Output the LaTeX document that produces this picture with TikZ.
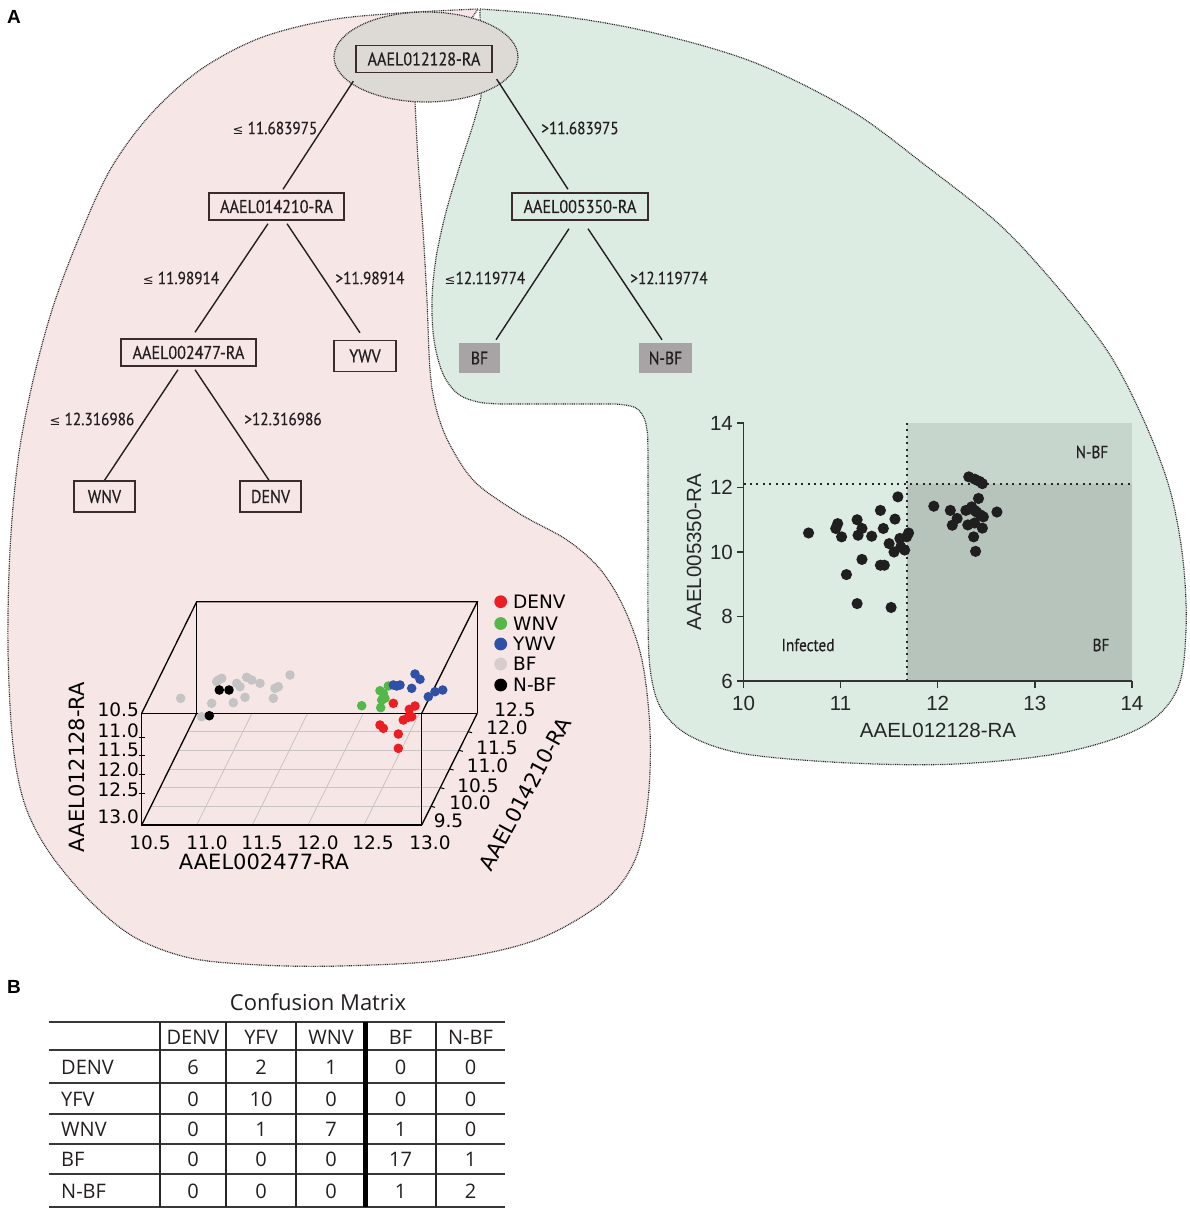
\documentclass[tikz,border=0pt]{standalone}
\usepackage{fontspec}
\setmainfont{Liberation Sans}
\newfontfamily\treef{PT Sans}[FakeStretch=0.87, FakeBold=0.45]
\newfontfamily\dvs{DejaVu Sans}
\newfontfamily\arl{Liberation Sans}
\newfontfamily\tbf{Open Sans}
\definecolor{pinkc}{RGB}{247,230,230}
\definecolor{greenc}{RGB}{220,236,226}
\definecolor{ellc}{RGB}{221,217,212}
\definecolor{shadeU}{RGB}{199,214,205}
\definecolor{shadeL}{RGB}{182,196,188}
\definecolor{leafgray}{RGB}{168,164,166}
\definecolor{boxc}{RGB}{58,44,44}
\definecolor{txt}{RGB}{35,31,32}
\definecolor{gridc}{RGB}{200,196,196}
\definecolor{dred}{RGB}{236,30,36}
\definecolor{dgreen}{RGB}{84,184,72}
\definecolor{dblue}{RGB}{48,80,168}
\definecolor{dgray}{RGB}{196,196,196}
\definecolor{lbf}{RGB}{216,204,204}
\newcommand\myle{{\dvs\fontsize{13}{15}\selectfont ≤}}
\begin{document}
\begin{tikzpicture}[x=1pt,y=-1pt,
  region/.style={draw=black!85, line width=1.2pt, dash pattern=on 0.9pt off 0.9pt},
  treebox/.style={draw=boxc, line width=1.4pt, inner sep=0pt, minimum height=27pt, text=txt, font=\treef\fontsize{18.5}{21}\selectfont},
  leafbox/.style={treebox, minimum height=31pt},
  greybox/.style={fill=leafgray, inner sep=0pt, minimum height=30pt, text=txt, font=\treef\fontsize{18}{21}\selectfont},
  cond/.style={inner sep=0pt, text=txt, font=\treef\fontsize{17.5}{20}\selectfont},
  edge/.style={draw=txt, line width=1.4pt},
  lab3d/.style={inner sep=0pt, font=\dvs\fontsize{18.5}{21}\selectfont},
  tit3d/.style={inner sep=0pt, font=\dvs\fontsize{21}{24}\selectfont},
  sclab/.style={inner sep=0pt, font=\arl\fontsize{20.5}{23}\selectfont, text=black!85},
  sctxt/.style={inner sep=0pt, font=\treef\fontsize{17.5}{20}\selectfont, text=txt},
  tabtxt/.style={inner sep=0pt, font=\tbf\fontsize{20}{23}\selectfont, text=txt},
  axisl/.style={draw=black!80, line width=1.4pt},
  dotl/.style={draw=black!85, line width=2.2pt, dash pattern=on 2pt off 4.4pt},
  panel/.style={inner sep=0pt, font=\arl\bfseries\fontsize{19}{22}\selectfont},
]
\useasboundingbox (0,0) rectangle (1190,1210);

% ---------- regions ----------
\path[fill=pinkc, region] (478,9) -- plot[smooth, tension=0.55] coordinates {
 (478,9) (400,13) (330,20) (260,38) (200,70) (150,115) (110,170) (78,240)
 (52,310) (32,385) (18,460) (10,550) (8,650) (13,745) (25,805) (49,852)
 (89,900) (134,937) (190,958) (260,965) (340,966) (446,960) (536,940)
 (603,902) (635,860) (648,800) (650,730) (642,660) (624,608) (600,569)
 (567,540) (520,514) (475,482) (449,443) (436,408) (430,370) (427,300)
 (423,230) (418,160) (415,101)} -- cycle;

\path[fill=greenc, region] (480,9) -- plot[smooth, tension=0.55] coordinates {
 (480,9) (560,16) (650,32) (753,62) (850,110) (925,165) (1000,225)
 (1060,290) (1110,355) (1145,423) (1170,490) (1183,560) (1186,630)
 (1177,690) (1140,728) (1061,753) (956,764) (850,763) (745,754) (690,736)
 (662,710) (651,675) (648,620) (648,460) (646,424) (636,408) (615,404)}
 -- (500,404) -- plot[smooth, tension=0.55] coordinates {
 (500,404) (478,402) (458,394) (443,374) (434,340) (432,300) (436,258)
 (446,212) (460,165) (473,125) (481,97)} -- cycle;

\path[fill=ellc, region] (426,57) ellipse[x radius=92, y radius=45];

% ---------- tree ----------
\node[panel] (lA) at (14,17) {A};
\node[treebox, fill=ellc, minimum width=136pt] (root) at (424,59) {AAEL012128-RA};
\node[treebox, fill=pinkc, minimum width=135pt] (n1) at (276.5,206.5) {AAEL014210-RA};
\node[treebox, fill=pinkc, minimum width=135pt] (n2) at (188.5,352.5) {AAEL002477-RA};
\node[leafbox, fill=pinkc, minimum width=62pt] (ywv) at (365,356) {YWV};
\node[leafbox, fill=pinkc, minimum width=61pt] (wnv) at (104.5,496.5) {WNV};
\node[leafbox, fill=pinkc, minimum width=61pt] (denv) at (270.5,496.5) {DENV};
\node[treebox, fill=greenc, minimum width=136pt] (n3) at (580,206.5) {AAEL005350-RA};
\node[greybox, minimum width=41pt] (bf) at (479.5,358) {BF};
\node[greybox, minimum width=53pt] (nbf) at (665.5,358) {N-BF};

\draw[edge] ([shift={(-2pt,-8pt)}]root.south west) -- ([shift={(6.5pt,3pt)}]n1.north);
\draw[edge] ([shift={(-8.5pt,-3pt)}]n1.south) -- ([shift={(6.5pt,6pt)}]n2.north);
\draw[edge] ([shift={(10.5pt,-3pt)}]n1.south) -- ([shift={(-5pt,7pt)}]ywv.north);
\draw[edge] ([shift={(-10.5pt,-3pt)}]n2.south) -- (wnv.north);
\draw[edge] ([shift={(6.5pt,-3pt)}]n2.south) -- ([shift={(-1.5pt,0pt)}]denv.north);
\draw[edge] ([shift={(4pt,-6pt)}]root.south east) -- ([shift={(-12pt,3pt)}]n3.north);
\draw[edge] ([shift={(-11pt,-8pt)}]n3.south) -- ([shift={(16.5pt,3pt)}]bf.north);
\draw[edge] ([shift={(8pt,-8pt)}]n3.south) -- ([shift={(-3.5pt,3pt)}]nbf.north);

\node[cond] (c1) at (275,128) {\myle\ 11.683975};
\node[cond] (c2) at (580,128) {>11.683975};
\node[cond] (c3) at (181,278) {\myle\ 11.98914};
\node[cond] (c4) at (370,278) {>11.98914};
\node[cond] (c5) at (485,278) {\myle 12.119774};
\node[cond] (c6) at (669,278) {>12.119774};
\node[cond] (c7) at (92,419) {\myle\ 12.316986};
\node[cond] (c8) at (283,419) {>12.316986};

% ---------- 3D plot ----------
\foreach \yy/\xl/\xr in {731.7/187.6/468.1, 750.3/178.5/458.9, 769/169.3/449.6, 787.7/160.1/440.3, 806.3/150.9/431.0}
  \draw[gridc, line width=0.8pt] (\xl,\yy) -- (\xr,\yy);
\foreach \xx in {196.7,252.3,308,364}
  \draw[gridc, line width=0.8pt] (\xx,825) -- (\xx+55.3,713.3);
\begin{scope}[line width=1.3pt, black]
 \draw (141.7,713.3) -- (477.3,713.3);
 \draw (141.7,713.3) -- (196.7,601.7) -- (477.3,601.7) -- (421.7,713.3);
 \draw (196.7,601.7) -- (196.7,713.3);
 \draw (477.3,601.7) -- (477.3,713.3);
 \draw (141.7,713.3) -- (141.7,825) -- (421.7,825) -- (421.7,713.3);
 \draw (141.7,825) -- (196.7,713.3);
 \draw (421.7,825) -- (477.3,713.3);
\end{scope}
\foreach \yy in {737,755,774,793} \draw[line width=1pt] (139,\yy) -- (145,\yy);
\foreach \yy/\xr in {731.7/468.1, 750.3/458.9, 769/449.6, 787.7/440.3, 806.3/431.0}
  \draw[line width=1pt] (\xr,\yy) -- (\xr+4,\yy+1);

\foreach \v/\yy [count=\i] in {10.5/710,11.0/731,11.5/750,12.0/770,12.5/790,13.0/817}
  \node[lab3d, anchor=east] (zl\i) at (139,\yy) {\v};
\foreach \v/\xx [count=\i] in {10.5/150,11.0/207,11.5/262,12.0/318,12.5/373,13.0/430}
  \node[lab3d] (xl\i) at (\xx,843) {\v};
\foreach \v/\xx/\yy [count=\i] in {12.5/515/710,12.0/507/728,11.5/497/748,11.0/487.5/766,10.5/478/786,10.0/470/803,9.5/448.5/821}
  \node[lab3d] (yl\i) at (\xx,\yy) {\v};
\node[tit3d] (t3x) at (264,862) {AAEL002477-RA};
\node[tit3d, rotate=90] (t3z) at (77,767) {AAEL012128-RA};
\node[tit3d, rotate=61.7] (t3y) at (525,794) {AAEL014210-RA};

\foreach \p in {(180.7,698.3),(218.3,680),(221.7,678.3),(216.7,681.7),(236.7,683.3),(240,686.7),(246.7,677.3),(251.7,680),(260,683.3),(275,688.3),(278.3,686.7),(290,675),(245,697.3),(233.3,702.7),(211.7,703.3),(273.3,698.3),(201.7,716.7)}
  \fill[dgray] \p circle[radius=4.8pt];
\foreach \p in {(219.3,690),(229,690),(209.3,715.7)}
  \fill[black] \p circle[radius=4.8pt];
\foreach \p in {(361.7,705.7),(380.7,707.7),(380,690.7),(383.3,693.3),(388.3,686),(385,698.3),(381.7,700)}
  \fill[dgreen] \p circle[radius=4.8pt];
\foreach \p in {(393.3,685),(400,685),(411.7,688.3),(415,674),(420,679.3),(428.3,696.7),(435,691.7),(442.7,690),(396.7,686)}
  \fill[dblue] \p circle[radius=4.8pt];
\foreach \p in {(393.3,703.3),(409.3,709.3),(415,706),(411.7,716.7),(403.3,720),(408.3,717.3),(380,725),(383.3,728.3),(398.3,734),(398.3,748.3)}
  \fill[dred] \p circle[radius=4.8pt];

\foreach \c/\t/\yy [count=\i] in {dred/DENV/601.7, dgreen/WNV/623.5, dblue/YWV/644, lbf/BF/664, black/N-BF/685}{
  \fill[\c] (500.7,\yy) circle[radius=6.4pt];
  \node[lab3d, anchor=west] (lg\i) at (513,\yy) {\t};
}

% ---------- 2D scatter ----------
\begin{scope}[shift={(743.5,681)}]
\begin{scope}[x=97.1pt,y=32.25pt]
 \fill[shadeU] (1.684,6.12) rectangle (4,8);
 \fill[shadeL] (1.684,0) rectangle (4,6.12);
 \draw[dotl] (1.684,8) -- (1.684,0);
 \draw[dotl] (0,6.12) -- (4,6.12);
 \draw[axisl] (0,8) -- (0,0) -- (4,0);
 \foreach \w/\l [count=\i] in {0/6,2/8,4/10,6/12,8/14}{
   \draw[axisl] (0,\w) -- ++(-7pt,0pt);
   \node[sclab, anchor=east] (yt\i) at ([xshift=-10.5pt]0,\w) {\l};
 }
 \foreach \v/\l [count=\i] in {0/10,1/11,2/12,3/13,4/14}{
   \draw[axisl] (\v,0) -- ++(0pt,-7pt);
   \node[sclab] (xt\i) at ([yshift=-22pt]\v,0) {\l};
 }
 \foreach \p in {(0.67,4.59),(0.97,4.88),(0.95,4.73),(1.01,4.47),(1.17,5.0),(1.22,4.73),(1.18,4.52),(1.32,4.49),(1.41,5.29),(1.44,4.73),(1.56,5.02),(1.59,5.71),(1.22,3.77),(1.06,3.30),(1.41,3.59),(1.45,3.59),(1.50,4.26),(1.55,4.0),(1.62,4.16),(1.66,4.06),(1.68,4.47),(1.70,4.59),(1.17,2.40),(1.52,2.28),(1.61,4.42),
   (1.96,5.42),(2.13,5.29),(2.20,5.04),(2.15,4.83),(2.32,6.33),(2.38,6.26),(2.43,6.19),(2.46,6.12),(2.42,5.66),(2.35,5.40),(2.38,5.29),(2.44,5.15),(2.47,5.09),(2.31,4.84),(2.38,4.90),(2.46,4.74),(2.37,4.47),(2.39,4.02),(2.61,5.24),(2.29,5.29),(2.40,5.24)}
   \fill[black!88] \p circle[radius=5.6pt];
\end{scope}
\end{scope}
\node[sclab] (sxt) at (938,730) {AAEL012128-RA};
\node[sclab, rotate=90] (syt) at (694,552) {AAEL005350-RA};
\node[sctxt] (snbf) at (1092,452) {N-BF};
\node[sctxt] (sbf) at (1101,645) {BF};
\node[sctxt] (sinf) at (808,645) {Infected};

% ---------- confusion matrix ----------
\node[panel] (lB) at (14,987) {B};
\node[inner sep=0pt, font=\tbf\fontsize{22}{25}\selectfont, text=txt] (cmt) at (318,1002) {Confusion Matrix};
\foreach \yy in {1022,1050,1083,1114,1144,1174,1207}
  \draw[black!78, line width=2.4pt] (49,\yy) -- (505,\yy);
\foreach \xx in {160,226,296,436}
  \draw[black!85, line width=1.8pt] (\xx,1022) -- (\xx,1207);
\draw[black, line width=5pt] (365,1022) -- (365,1207);
\foreach \c/\xx [count=\i] in {DENV/193,YFV/261,WNV/331,BF/400.5,N-BF/470.5}
  \node[tabtxt] (h\i) at (\xx,1037) {\c};
\foreach \r/\yy/\a/\b/\c/\d/\e [count=\i] in {DENV/1067/6/2/1/0/0, YFV/1099/0/10/0/0/0, WNV/1129/0/1/7/1/0, BF/1159/0/0/0/17/1, N-BF/1191/0/0/0/1/2}{
  \node[tabtxt, anchor=west] (r\i) at (61,\yy) {\r};
  \node[tabtxt] (v\i a) at (193,\yy) {\a};
  \node[tabtxt] (v\i b) at (261,\yy) {\b};
  \node[tabtxt] (v\i c) at (331,\yy) {\c};
  \node[tabtxt] (v\i d) at (400.5,\yy) {\d};
  \node[tabtxt] (v\i e) at (470.5,\yy) {\e};
}
\end{tikzpicture}
\end{document}
